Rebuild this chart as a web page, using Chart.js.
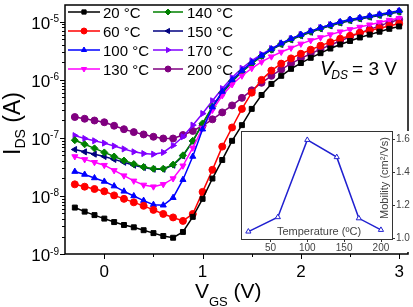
<!DOCTYPE html>
<html>
<head>
<meta charset="utf-8">
<script src="https://cdn.jsdelivr.net/npm/chart.js@4.4.1/dist/chart.umd.min.js"></script>
<style>
  html, body { margin: 0; padding: 0; background: #fff; }
  #wrap { position: relative; width: 413px; height: 307px; overflow: hidden; }
  #main { position: absolute; left: 0; top: 0; }
  #inset { position: absolute; left: 228px; top: 126px; }
</style>
</head>
<body>
<div id="wrap">
  <canvas id="main" width="413" height="307"></canvas>
  <canvas id="inset" width="185" height="131"></canvas>
</div>
<script>
/* =========================================================
   Data
   ========================================================= */
// gate voltage (V)
const vgs = [-0.3, -0.2, -0.1, 0.0, 0.1, 0.2, 0.3, 0.4, 0.5, 0.6, 0.7, 0.8, 0.9,
  1.0, 1.1, 1.2, 1.3, 1.4, 1.5, 1.6, 1.7, 1.8, 1.9, 2.0, 2.1, 2.2, 2.3, 2.4,
  2.5, 2.6, 2.7, 2.8, 2.9, 3.0];

// log10 of I_DS (A), one list per temperature
const logI20 = [-8.20, -8.27, -8.33, -8.39, -8.45, -8.50, -8.54, -8.59, -8.64, -8.69, -8.72, -8.62, -8.36,
  -8.05, -7.70, -7.38, -7.05, -6.78, -6.50, -6.26, -6.07, -5.93, -5.81, -5.71, -5.62, -5.54, -5.46, -5.39,
  -5.33, -5.27, -5.22, -5.17, -5.12, -5.08];
const logI60 = [-7.80, -7.84, -7.88, -7.92, -7.99, -8.05, -8.11, -8.17, -8.24, -8.31, -8.37, -8.43, -8.31,
  -7.93, -7.55, -7.15, -6.82, -6.50, -6.22, -6.00, -5.84, -5.72, -5.63, -5.55, -5.48, -5.41, -5.35, -5.29,
  -5.24, -5.19, -5.15, -5.11, -5.07, -5.03];
const logI100 = [-7.58, -7.63, -7.69, -7.75, -7.83, -7.92, -8.00, -8.08, -8.15, -8.16, -8.03, -7.72, -7.32,
  -6.85, -6.47, -6.20, -6.00, -5.84, -5.70, -5.58, -5.47, -5.37, -5.29, -5.22, -5.16, -5.10, -5.05, -5.00,
  -4.96, -4.93, -4.90, -4.87, -4.84, -4.81];
const logI130 = [-7.32, -7.37, -7.42, -7.47, -7.56, -7.65, -7.74, -7.81, -7.84, -7.80, -7.70, -7.48, -7.17,
  -6.83, -6.52, -6.27, -6.08, -5.93, -5.80, -5.69, -5.60, -5.52, -5.45, -5.38, -5.32, -5.27, -5.22, -5.17,
  -5.13, -5.09, -5.05, -5.01, -4.97, -4.94];
const logI140 = [-7.04, -7.11, -7.18, -7.25, -7.32, -7.39, -7.45, -7.50, -7.53, -7.53, -7.46, -7.30, -7.05,
  -6.75, -6.46, -6.22, -6.02, -5.86, -5.72, -5.59, -5.48, -5.38, -5.30, -5.23, -5.17, -5.11, -5.06, -5.01,
  -4.97, -4.94, -4.91, -4.88, -4.85, -4.82];
const logI150 = [-7.20, -7.24, -7.28, -7.32, -7.37, -7.42, -7.47, -7.51, -7.54, -7.54, -7.47, -7.31, -7.06,
  -6.76, -6.47, -6.23, -6.03, -5.86, -5.72, -5.59, -5.48, -5.39, -5.31, -5.24, -5.18, -5.12, -5.07, -5.02,
  -4.98, -4.95, -4.92, -4.89, -4.86, -4.83];
const logI170 = [-6.96, -7.01, -7.05, -7.09, -7.14, -7.19, -7.24, -7.27, -7.28, -7.25, -7.13, -6.98, -6.78,
  -6.58, -6.36, -6.15, -5.96, -5.80, -5.67, -5.56, -5.46, -5.37, -5.29, -5.22, -5.16, -5.10, -5.05, -5.01,
  -4.97, -4.94, -4.91, -4.88, -4.85, -4.82];
const logI200 = [-6.64, -6.67, -6.70, -6.73, -6.79, -6.85, -6.90, -6.94, -6.98, -7.01, -7.01, -6.95, -6.88,
  -6.79, -6.68, -6.56, -6.44, -6.31, -6.18, -6.05, -5.93, -5.82, -5.72, -5.63, -5.55, -5.47, -5.40, -5.33,
  -5.26, -5.19, -5.13, -5.07, -5.01, -4.96];

const tempLabels = ['20 °C', '60 °C', '100 °C', '130 °C', '140 °C', '150 °C', '170 °C', '200 °C'];

// axis ticks
const yDecades = [-9, -8, -7, -6, -5];
const xMajor = [0, 1, 2, 3];
const xMinor = [0.5, 1.5, 2.5];

// inset: mobility vs temperature
const insetTemp = [20, 60, 100, 140, 170, 200];
const insetMob = [1.04, 1.127, 1.594, 1.49, 1.12, 1.05];
const insetXTicks = [50, 100, 150, 200];
const insetYTicks = [1.0, 1.2, 1.4, 1.6];

/* =========================================================
   Styles
   ========================================================= */
const FONT = '"Liberation Sans", Arial, Helvetica, sans-serif';
const seriesLogs = [logI20, logI60, logI100, logI130, logI140, logI150, logI170, logI200];
const seriesStyle = [
  { color: '#000000', style: 'rect', rot: 0 },
  { color: '#ff0000', style: 'circle', rot: 0 },
  { color: '#0000ff', style: 'triangle', rot: 0 },
  { color: '#ff00ff', style: 'triangle', rot: 180 },
  { color: '#008000', style: 'rectRot', rot: 0 },
  { color: '#000080', style: 'triangle', rot: 270 },
  { color: '#8000ff', style: 'triangle', rot: 90 },
  { color: '#800080', style: 'circle', rot: 0 }
];

function drawMarker(ctx, s, x, y) {
  ctx.fillStyle = s.color;
  ctx.strokeStyle = s.color;
  ctx.lineWidth = 1;
  if (Chart.helpers && Chart.helpers.drawPoint) {
    Chart.helpers.drawPoint(ctx, { pointStyle: s.style, rotation: s.rot, radius: 3, borderWidth: 1 }, x, y);
  } else {
    ctx.beginPath();
    ctx.arc(x, y, 3, 0, Math.PI * 2);
    ctx.fill();
  }
}

// draws one text piece and returns where it ends
function drawPiece(ctx, text, x, y, size, style) {
  ctx.font = (style || '') + ' ' + size + 'px ' + FONT;
  ctx.fillText(text, x, y);
  return x + ctx.measureText(text).width;
}

/* =========================================================
   Main chart
   ========================================================= */
const mainDecor = {
  id: 'mainDecor',
  afterDraw(chart) {
    const { ctx, chartArea: a, scales: { x, y } } = chart;
    ctx.save();
    ctx.strokeStyle = '#000';
    ctx.fillStyle = '#000';

    // frame
    ctx.lineWidth = 1.5;
    ctx.strokeRect(a.left, a.top, a.right - a.left, a.bottom - a.top);

    // y ticks (log, with minor)
    ctx.lineWidth = 1;
    ctx.beginPath();
    yDecades.forEach(e => {
      for (let k = 1; k <= 9; k++) {
        const v = k * Math.pow(10, e);
        if (v < y.min * 0.999 || v > y.max) continue;
        const py = Math.round(y.getPixelForValue(v)) + 0.5;
        ctx.moveTo(a.left, py);
        ctx.lineTo(a.left - (k === 1 ? 5 : 3), py);
      }
    });
    // x ticks
    xMajor.forEach(v => {
      const px = Math.round(x.getPixelForValue(v)) + 0.5;
      ctx.moveTo(px, a.bottom);
      ctx.lineTo(px, a.bottom + 5);
    });
    xMinor.forEach(v => {
      const px = Math.round(x.getPixelForValue(v)) + 0.5;
      ctx.moveTo(px, a.bottom);
      ctx.lineTo(px, a.bottom + 3);
    });
    ctx.stroke();

    // y tick labels: 10^n
    ctx.textBaseline = 'alphabetic';
    ctx.textAlign = 'left';
    yDecades.forEach(e => {
      const py = y.getPixelForValue(Math.pow(10, e));
      ctx.font = '17px ' + FONT;
      const wb = ctx.measureText('10').width;
      ctx.font = '10px ' + FONT;
      const ws = ctx.measureText(String(e)).width;
      const x0 = a.left - 6 - wb - ws;
      drawPiece(ctx, '10', x0, py + 7, 17);
      drawPiece(ctx, String(e), x0 + wb, py + 0.5, 10);
    });

    // x tick labels
    ctx.textAlign = 'center';
    ctx.font = '17px ' + FONT;
    xMajor.forEach(v => {
      ctx.fillText(String(v), x.getPixelForValue(v), a.bottom + 23);
    });

    // x title: V_GS (V)
    ctx.textAlign = 'left';
    let cx = 195;
    cx = drawPiece(ctx, 'V', cx, 298, 21);
    cx = drawPiece(ctx, 'GS', cx, 306, 13);
    drawPiece(ctx, ' (V)', cx, 298, 21);

    // y title: I_DS (A)
    ctx.save();
    ctx.translate(20, 155);
    ctx.rotate(-Math.PI / 2);
    let ty = 0;
    ty = drawPiece(ctx, 'I', ty, 0, 23);
    ty = drawPiece(ctx, 'DS', ty, 5, 14);
    drawPiece(ctx, ' (A)', ty, 0, 23);
    ctx.restore();

    // V_DS = 3 V
    cx = drawPiece(ctx, 'V', 320, 75, 20, 'italic');
    cx = drawPiece(ctx, 'DS', cx - 2, 79, 12, 'italic');
    drawPiece(ctx, '= 3 V', cx + 4, 75, 19);

    // legend, two columns
    const rows = [12, 31, 50, 69];
    const cols = [{ l: 68, r: 100, t: 103 }, { l: 153, r: 183, t: 187 }];
    tempLabels.forEach((lab, i) => {
      const c = cols[Math.floor(i / 4)];
      const ry = rows[i % 4];
      const s = seriesStyle[i];
      ctx.strokeStyle = s.color;
      ctx.lineWidth = 1.5;
      ctx.beginPath();
      ctx.moveTo(c.l, ry);
      ctx.lineTo(c.r, ry);
      ctx.stroke();
      drawMarker(ctx, s, (c.l + c.r) / 2, ry);
      ctx.fillStyle = '#000';
      ctx.font = '15px ' + FONT;
      ctx.textAlign = 'left';
      ctx.fillText(lab, c.t, ry + 5.5);
    });

    ctx.restore();
  }
};

const mainDatasets = seriesLogs.map((logs, i) => {
  const s = seriesStyle[i];
  return {
    label: tempLabels[i],
    data: vgs.map((v, j) => ({ x: v, y: Math.pow(10, logs[j]) })),
    borderColor: s.color,
    backgroundColor: s.color,
    pointBackgroundColor: s.color,
    pointBorderColor: s.color,
    pointStyle: s.style,
    pointRotation: s.rot,
    pointRadius: 3.5,
    pointBorderWidth: 1,
    borderWidth: 1.5,
    showLine: true,
    fill: false,
    tension: 0
  };
});

new Chart(document.getElementById('main').getContext('2d'), {
  type: 'scatter',
  data: { datasets: mainDatasets },
  options: {
    responsive: false,
    animation: false,
    layout: { padding: { left: 65, right: 2, top: 2, bottom: 53 } },
    plugins: { legend: { display: false }, tooltip: { enabled: false } },
    scales: {
      x: { type: 'linear', min: -0.40, max: 3.09, display: false },
      y: { type: 'logarithmic', min: 1e-9, max: 1.95e-5, display: false }
    }
  },
  plugins: [mainDecor]
});

/* =========================================================
   Inset chart
   ========================================================= */
const INSET_GRAY = '#444';

const insetDecor = {
  id: 'insetDecor',
  beforeDraw(chart) {
    const { ctx, chartArea: a } = chart;
    ctx.save();
    ctx.fillStyle = '#fff';
    ctx.fillRect(a.left, a.top, chart.width - a.left, 126 - a.top);
    ctx.restore();
  },
  afterDraw(chart) {
    const { ctx, chartArea: a, scales: { x, y } } = chart;
    ctx.save();
    ctx.strokeStyle = '#333';
    ctx.lineWidth = 1;
    ctx.strokeRect(a.left + 0.5, a.top + 0.5, a.right - a.left, a.bottom - a.top);

    ctx.beginPath();
    insetXTicks.forEach(v => {
      const px = Math.round(x.getPixelForValue(v)) + 0.5;
      ctx.moveTo(px, a.bottom);
      ctx.lineTo(px, a.bottom + 3);
    });
    insetYTicks.forEach(v => {
      const py = Math.round(y.getPixelForValue(v)) + 0.5;
      ctx.moveTo(a.right, py);
      ctx.lineTo(a.right + 3, py);
    });
    ctx.stroke();

    ctx.fillStyle = INSET_GRAY;
    ctx.font = '10px ' + FONT;
    ctx.textAlign = 'center';
    ctx.textBaseline = 'middle';
    insetXTicks.forEach(v => ctx.fillText(String(v), x.getPixelForValue(v), a.bottom + 9));
    ctx.textAlign = 'left';
    insetYTicks.forEach(v => ctx.fillText(v.toFixed(1), a.right + 4, y.getPixelForValue(v)));

    ctx.font = '11px ' + FONT;
    ctx.textAlign = 'center';
    ctx.textBaseline = 'alphabetic';
    ctx.fillText('Temperature (ºC)', 91, 109);

    ctx.save();
    ctx.translate(a.right - 4, 52);
    ctx.rotate(-Math.PI / 2);
    ctx.fillText('Mobility (cm²/Vs)', 0, 0);
    ctx.restore();

    ctx.restore();
  }
};

new Chart(document.getElementById('inset').getContext('2d'), {
  type: 'scatter',
  data: {
    datasets: [{
      data: insetTemp.map((t, i) => ({ x: t, y: insetMob[i] })),
      borderColor: '#2020d0',
      backgroundColor: '#ffffff',
      pointBackgroundColor: '#ffffff',
      pointBorderColor: '#2020d0',
      pointStyle: 'triangle',
      pointRadius: 3,
      pointBorderWidth: 1,
      borderWidth: 1.5,
      showLine: true,
      tension: 0
    }]
  },
  options: {
    responsive: false,
    animation: false,
    layout: { padding: { left: 13, right: 21, top: 5, bottom: 18 } },
    plugins: { legend: { display: false }, tooltip: { enabled: false } },
    scales: {
      x: { type: 'linear', min: 10, max: 215, display: false },
      y: { type: 'linear', min: 0.995, max: 1.648, display: false }
    }
  },
  plugins: [insetDecor]
});
</script>
</body>
</html>
